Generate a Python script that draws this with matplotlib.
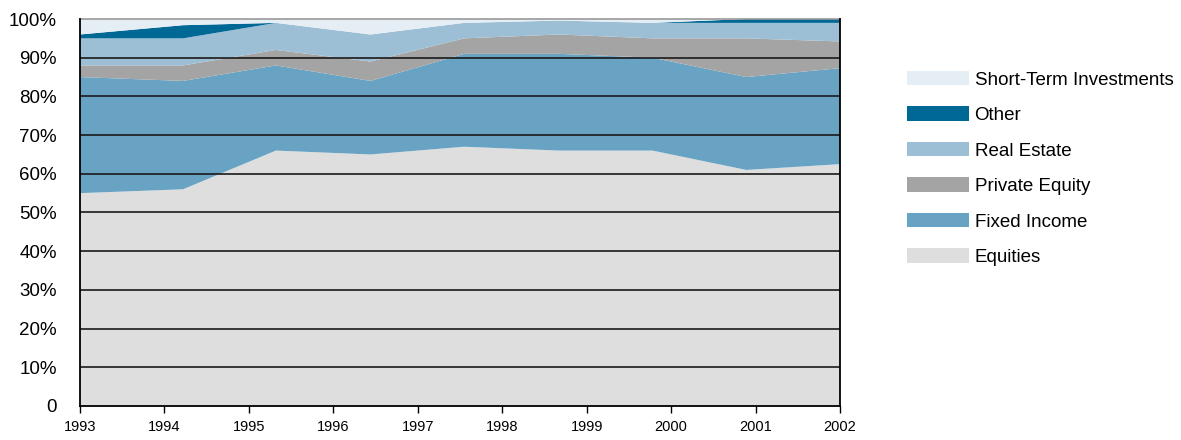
import numpy as np
import matplotlib
matplotlib.use("Agg")
import matplotlib.pyplot as plt
from matplotlib.patches import Patch

# 9 observations, placed along the 1993-2002 axis as in the original
obs_x = [1993.0, 1994.22, 1995.32, 1996.44, 1997.55, 1998.67, 1999.78, 2000.89, 2002.0]

# allocation (percent of portfolio)
equities = [55, 56, 66, 65, 67, 66, 66, 61, 62.5]
fixed_income = [30, 28, 22, 19, 24, 25, 24, 24, 24.8]
private_equity = [3, 4, 4, 5, 4, 5, 5, 10, 6.9]
real_estate = [7, 7, 7, 7, 4, 3.6, 4, 4, 4.8]
other = [1, 3.4, 0, 0, 0, 0, 0, 1, 1]
short_term = [4, 1.6, 1, 4, 1, 0.4, 1, 0, 0]

series_names = ["Equities", "Fixed Income", "Private Equity",
                "Real Estate", "Other", "Short-Term Investments"]
colors = ["#dedede", "#68a3c3", "#a4a4a4", "#9dbfd6", "#006895", "#e6eef5"]
year_ticks = list(range(1993, 2003))

font = ["Liberation Sans", "DejaVu Sans"]

fig = plt.figure(figsize=(11.81, 4.4), dpi=100)
ax = fig.add_axes([0.0677, 0.0773, 0.6436, 0.8795])

data = [equities, fixed_income, private_equity, real_estate, other, short_term]
ax.stackplot(obs_x, *data, colors=colors, linewidth=0, zorder=1)

for yv in range(10, 100, 10):
    ax.axhline(yv, color="#1a1a1a", linewidth=1.2, zorder=3)

ax.set_xlim(year_ticks[0], year_ticks[-1])
ax.set_ylim(0, 100)

ax.set_xticks(year_ticks)
ax.set_xticklabels([str(y) for y in year_ticks], family=font, fontsize=10.5)
ax.tick_params(axis="x", length=5, width=1, pad=5, color="black")

yt = list(range(0, 101, 10))
ax.set_yticks(yt)
ax.set_yticklabels(["0"] + [f"{v}%" for v in yt[1:]], family=font, fontsize=13.5)
ax.tick_params(axis="y", length=0, pad=16.5)

for side in ["left", "bottom", "right"]:
    ax.spines[side].set_color("black")
    ax.spines[side].set_linewidth(1.3)
    ax.spines[side].set_zorder(4)
ax.spines["top"].set_color("#999999")
ax.spines["top"].set_linewidth(1.2)

handles = [Patch(facecolor=c, edgecolor="none") for c in colors][::-1]
labels = series_names[::-1]
fig.legend(handles, labels, loc="upper left",
           bbox_to_anchor=(0.768, 0.839), frameon=False,
           prop={"family": font, "size": 13.5},
           handlelength=3.3, handleheight=0.8, handletextpad=0.3,
           labelspacing=0.95, borderaxespad=0, borderpad=0)

fig.savefig("out.png", dpi=100)
